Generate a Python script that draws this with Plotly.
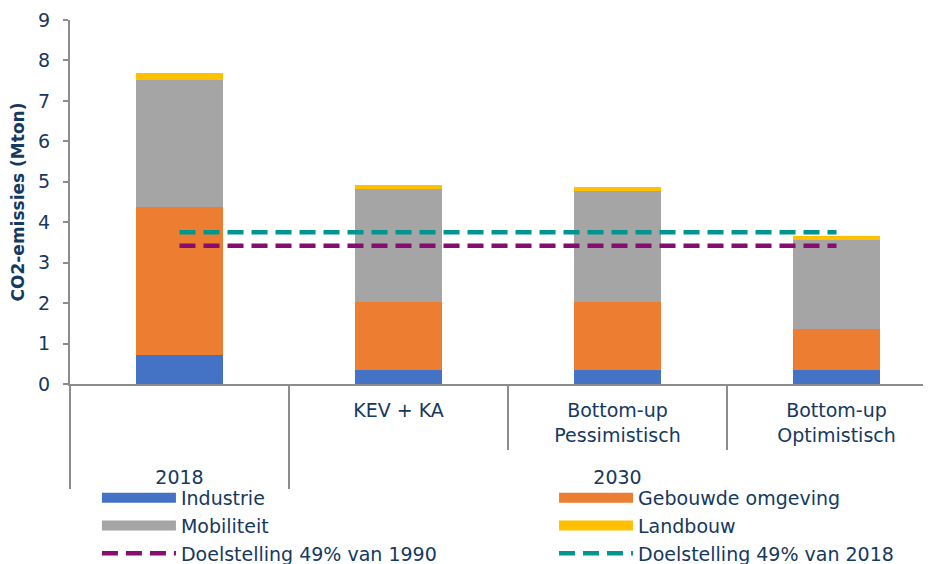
import plotly.graph_objects as go

# categories (outer group, inner label)
groups = ["2018", "2030", "2030", "2030"]
scenarios = [" ", "KEV + KA", "Bottom-up<br>Pessimistisch", "Bottom-up<br>Optimistisch"]

# CO2-emissies per sector (Mton)
industrie = [0.72, 0.34, 0.34, 0.34]
gebouwde_omgeving = [3.66, 1.69, 1.69, 1.03]
mobiliteit = [3.14, 2.79, 2.74, 2.20]
landbouw = [0.16, 0.09, 0.10, 0.09]

# doelstellingen
doel_1990 = [3.42, 3.42, 3.42, 3.42]
doel_2018 = [3.75, 3.75, 3.75, 3.75]

y_ticks = list(range(0, 10))

FONT = "DejaVu Sans, sans-serif"
TEXT = "#15395F"
GRAY = "#8C8C8C"

# extra blank line under the scenario labels pushes the year labels down
x = [groups, [s + "<br><span style='font-size:27px'>&nbsp;</span>" for s in scenarios]]
fig = go.Figure()

sectors = [
    ("Industrie", industrie, "#4472C4", "legend"),
    ("Gebouwde omgeving", gebouwde_omgeving, "#ED7D31", "legend2"),
    ("Mobiliteit", mobiliteit, "#A5A5A5", "legend"),
    ("Landbouw", landbouw, "#FFC000", "legend2"),
]
for name, vals, color, _ in sectors:
    fig.add_trace(go.Bar(x=x, y=vals, name=name, marker_color=color,
                         marker_line_width=0, showlegend=False))

# legend entries with wide colour blocks
for name, vals, color, leg in sectors:
    fig.add_trace(go.Scatter(x=[[x[0][0]], [x[1][0]]], y=[None], mode="lines",
                             name=name, line=dict(color=color, width=11),
                             legend=leg, hoverinfo="skip"))

fig.add_trace(go.Scatter(x=x, y=doel_1990, mode="lines", name="Doelstelling 49% van 1990",
                         line=dict(color="#870C6E", width=4.5, dash="16px,8px"), legend="legend"))
fig.add_trace(go.Scatter(x=x, y=doel_2018, mode="lines", name="Doelstelling 49% van 2018",
                         line=dict(color="#009690", width=4.5, dash="16px,8px"), legend="legend2"))

legend_style = dict(font=dict(family=FONT, size=19, color=TEXT), bgcolor="rgba(0,0,0,0)",
                    itemwidth=74, yanchor="top", xanchor="left", tracegroupgap=0,
                    traceorder="normal", yref="container", y=0.165)

fig.update_layout(
    width=931, height=564,
    margin=dict(l=62, r=0, t=12, b=188),
    barmode="stack", bargap=0.6,
    plot_bgcolor="white", paper_bgcolor="white",
    font=dict(family=FONT, size=19, color=TEXT),
    legend=dict(x=0.031, **legend_style),
    legend2=dict(x=0.557, **legend_style),
)

fig.update_xaxes(
    type="multicategory", range=[-0.5, 3.468], automargin=False,
    showline=True, linecolor=GRAY, linewidth=2,
    ticks="outside", tickson="boundaries", ticklen=64, tickcolor=GRAY, tickwidth=1.5,
    ticklabelstandoff=8,
    showdividers=True, dividercolor=GRAY, dividerwidth=1.5,
    showgrid=False, tickfont=dict(size=19, color=TEXT),
)
fig.update_yaxes(
    range=[0, 9], tickvals=y_ticks,
    showline=True, linecolor=GRAY, linewidth=2,
    ticks="outside", ticklen=5, tickcolor=GRAY, tickwidth=1.5, ticklabelstandoff=9,
    showgrid=False, zeroline=False, tickfont=dict(size=19, color=TEXT),
    title=dict(text="<b>CO2-emissies (Mton)</b>", font=dict(size=17, color=TEXT), standoff=17),
    automargin=False,
)

fig.write_html("out.html")
